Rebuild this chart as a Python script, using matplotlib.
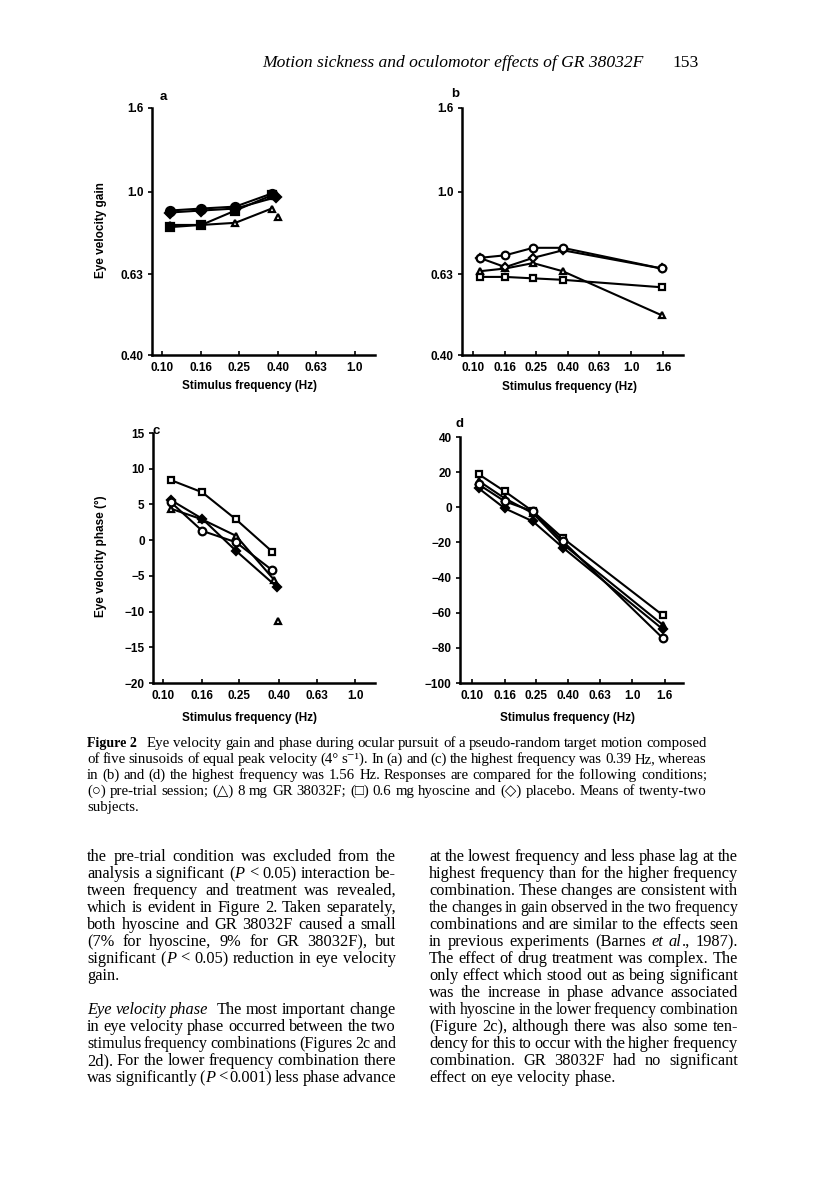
import numpy as np
import matplotlib.pyplot as plt

plt.rcParams['font.family'] = 'Liberation Sans'

SERIF = ['Liberation Serif', 'DejaVu Serif', 'DejaVu Sans']
SANS = ['Liberation Sans', 'DejaVu Sans']

# ---- data ----
# stimulus frequencies (Hz); small offsets at the top frequency as printed
f_low = [0.11, 0.16, 0.24, 0.37]
f_low_off = [0.11, 0.16, 0.24, 0.39]
f_high = [0.11, 0.16, 0.24, 0.37, 1.56]

# (a) gain, lower frequency combination
gain_a_pre = [0.90, 0.91, 0.92, 0.99]
gain_a_gr = [0.83, 0.83, 0.84, 0.91]
gain_a_hyo = [0.82, 0.83, 0.90, 0.98]
gain_a_plc = [0.89, 0.90, 0.91, 0.97]
gain_a_gr_extra = (0.40, 0.87)

# (b) gain, higher frequency combination
gain_b_pre = [0.69, 0.70, 0.73, 0.73, 0.65]
gain_b_gr = [0.64, 0.65, 0.67, 0.64, 0.50]
gain_b_hyo = [0.62, 0.62, 0.615, 0.61, 0.585]
gain_b_plc = [0.69, 0.655, 0.69, 0.72, 0.65]

# (c) phase (deg), lower frequency combination
phase_c_pre = [5.3, 1.3, -0.3, -4.2]
phase_c_gr = [4.4, 2.9, 0.6, -5.6]
phase_c_hyo = [8.4, 6.7, 2.9, -1.6]
phase_c_plc = [5.6, 3.0, -1.5, -6.5]
phase_c_gr_extra = (0.395, -11.3)

# (d) phase (deg), higher frequency combination
phase_d_pre = [13.0, 3.4, -2.3, -19.4, -74.6]
phase_d_gr = [15.0, 5.1, -3.4, -21.0, -67.0]
phase_d_hyo = [18.8, 9.1, -2.3, -17.6, -61.5]
phase_d_plc = [10.8, -0.6, -8.0, -23.0, -69.5]

x_ticks_low = [0.10, 0.16, 0.25, 0.40, 0.63, 1.0]
x_labels_low = ['0.10', '0.16', '0.25', '0.40', '0.63', '1.0']
x_ticks_high = [0.10, 0.16, 0.25, 0.40, 0.63, 1.0, 1.6]
x_labels_high = ['0.10', '0.16', '0.25', '0.40', '0.63', '1.0', '1.6']
gain_ticks = [0.40, 0.63, 1.0, 1.6]
gain_labels = ['0.40', '0.63', '1.0', '1.6']
phase_c_ticks = [-20, -15, -10, -5, 0, 5, 10, 15]
phase_c_labels = ['\u221220', '\u221215', '\u221210', '\u22125', '0', '5', '10', '15']
phase_d_ticks = [-100, -80, -60, -40, -20, 0, 20, 40]
phase_d_labels = ['\u2212100', '\u221280', '\u221260', '\u221240', '\u221220', '0', '20', '40']

W, H = 816, 1179
fig = plt.figure(figsize=(W / 100, H / 100), dpi=100)
fig.patch.set_facecolor('white')


def rect(x0, x1, ytop, ybot):
    return [x0 / W, 1 - ybot / H, (x1 - x0) / W, (ybot - ytop) / H]


def setup(ax, xlim, ylim, xt, xl, yt, yl, logy):
    ax.set_xscale('log')
    if logy:
        ax.set_yscale('log')
    ax.set_xlim(*xlim)
    ax.set_ylim(*ylim)
    ax.set_xticks(xt, xl, fontweight='bold', family=SANS)
    ax.set_yticks(yt, yl, fontweight='bold', family=SANS)
    ax.set_xticks([], minor=True)
    ax.set_yticks([], minor=True)
    for s in ['top', 'right']:
        ax.spines[s].set_visible(False)
    for s in ['left', 'bottom']:
        ax.spines[s].set_linewidth(1.8)
    ax.tick_params(axis='x', direction='in', length=3, width=1.2, labelsize=8.5, pad=5)
    ax.tick_params(axis='y', direction='out', length=3, width=1.2, labelsize=8.5, pad=3)
    ax.patch.set_alpha(0)


def series(ax, x, y, marker, face='white', ms=5.5):
    ax.plot(x, y, color='black', lw=1.5, marker=marker, ms=ms,
            mfc=face, mec='black', mew=1.6, zorder=3)


# panel a
ax_a = fig.add_axes(rect(152, 375, 108, 355))
setup(ax_a, (0.0887, 1.27), (0.40, 1.6), x_ticks_low, x_labels_low,
      gain_ticks, gain_labels, True)
series(ax_a, f_low, gain_a_gr, '^', ms=5)
series(ax_a, f_low, gain_a_hyo, 's', 'black', ms=5.5)
series(ax_a, f_low_off, gain_a_plc, 'D', 'black', ms=5)
series(ax_a, f_low, gain_a_pre, 'o', 'black', ms=6.5)
ax_a.plot(*gain_a_gr_extra, marker='^', ms=5, mfc='white', mec='black', mew=1.6)

# panel b
ax_b = fig.add_axes(rect(462, 683, 108, 355))
setup(ax_b, (0.0852, 2.13), (0.40, 1.6), x_ticks_high, x_labels_high,
      gain_ticks, gain_labels, True)
series(ax_b, f_high, gain_b_gr, '^', ms=5)
series(ax_b, f_high, gain_b_hyo, 's', ms=5)
series(ax_b, f_high, gain_b_plc, 'D', ms=4.5)
series(ax_b, f_high, gain_b_pre, 'o', ms=5.5)

# panel c
ax_c = fig.add_axes(rect(153, 375, 433, 683))
setup(ax_c, (0.0887, 1.27), (-20, 15), x_ticks_low, x_labels_low,
      phase_c_ticks, phase_c_labels, False)
series(ax_c, f_low, phase_c_hyo, 's', ms=5)
series(ax_c, [0.11, 0.16, 0.24, 0.38], phase_c_gr, '^', ms=5)
series(ax_c, f_low_off, phase_c_plc, 'D', 'black', ms=4.5)
series(ax_c, f_low, phase_c_pre, 'o', ms=5.5)
ax_c.plot(*phase_c_gr_extra, marker='^', ms=5, mfc='white', mec='black', mew=1.6)

# panel d
ax_d = fig.add_axes(rect(460, 683, 437, 683))
setup(ax_d, (0.0841, 2.08), (-100, 40), x_ticks_high, x_labels_high,
      phase_d_ticks, phase_d_labels, False)
series(ax_d, f_high, phase_d_hyo, 's', ms=5)
series(ax_d, f_high, phase_d_gr, '^', ms=5)
series(ax_d, f_high, phase_d_plc, 'D', 'black', ms=4.5)
series(ax_d, f_high, phase_d_pre, 'o', ms=5.5)

# ---- page layer in pixel coordinates ----
page = fig.add_axes([0, 0, 1, 1], zorder=-1)
page.set_xlim(0, W)
page.set_ylim(H, 0)
page.axis('off')
rend = fig.canvas.get_renderer()

# panel letters and axis titles
for txt, x, y in [('a', 163, 97), ('b', 455, 94), ('c', 156, 431), ('d', 459, 424)]:
    page.text(x, y, txt, fontsize=9.5, fontweight='bold', family=SANS, ha='center', va='center')
for x, y in [(249, 386), (570, 387), (249, 718), (567, 718)]:
    page.text(x, y, 'Stimulus frequency (Hz)', fontsize=8.5, fontweight='bold',
              family=SANS, ha='center', va='center')
page.text(101, 230, 'Eye velocity gain', fontsize=8.5, fontweight='bold', family=SANS,
          rotation=90, ha='center', va='center')
page.text(101, 556, 'Eye velocity phase (\u00b0)', fontsize=8.5, fontweight='bold',
          family=SANS, rotation=90, ha='center', va='center')


def txt_w(s, italic, size, weight='normal'):
    t = page.text(0, 0, s, fontsize=size, family=SERIF,
                  style='italic' if italic else 'normal', weight=weight)
    w = t.get_window_extent(renderer=rend).width
    t.remove()
    return w


def parse(line):
    words, state = [], False
    for tok in line.split(' '):
        segs, buf = [], ''
        for ch in tok:
            if ch == '*':
                if buf:
                    segs.append((buf, state))
                    buf = ''
                state = not state
            else:
                buf += ch
        if buf:
            segs.append((buf, state))
        words.append(segs)
    return words


def natural(line, size):
    words = parse(line)
    space = txt_w('x x', False, size) - txt_w('xx', False, size)
    return sum(sum(txt_w(s, it, size) for s, it in w) for w in words) + space * (len(words) - 1)


def fit_size(lines, widths, base=10.0):
    # typical size at which a full (justified) line fills its column
    sizes = []
    for line, wd in zip(lines, widths):
        n = natural(line, base) if line else 0
        if n > 0.75 * wd:
            sizes.append(base * wd / n)
    return float(np.median(sizes))


def put_line(x0, x1, y, line, size, justify=None):
    width = x1 - x0
    words = parse(line)
    # squeeze the word gaps first, shrink the type only if that is not enough
    space = txt_w('x x', False, size) - txt_w('xx', False, size)
    ink = sum(sum(txt_w(s, it, size) for s, it in w) for w in words)
    tight = ink + 0.6 * space * (len(words) - 1)
    if tight > width:
        size = size * width / tight
    widths = [sum(txt_w(s, it, size) for s, it in w) for w in words]
    space = txt_w('x x', False, size) - txt_w('xx', False, size)
    nat = sum(widths) + space * (len(words) - 1)
    if justify is None:
        justify = nat > 0.75 * width
    gap = space
    if justify and len(words) > 1:
        gap = (width - sum(widths)) / (len(words) - 1)
    x = x0
    for w, wd in zip(words, widths):
        xx = x
        for s, it in w:
            page.text(xx, y, s, fontsize=size, family=SERIF,
                      style='italic' if it else 'normal', va='baseline', ha='left')
            xx += txt_w(s, it, size)
        x += wd + gap


# header
header = 'Motion sickness and oculomotor effects of GR 38032F'
page.text(262, 67, header, fontsize=12.6, family=SERIF, style='italic', va='baseline')
page.text(672, 67, '153', fontsize=12.6, family=SERIF, va='baseline')

# caption
caption = [
    'Eye velocity gain and phase during ocular pursuit of a pseudo-random target motion composed',
    'of five sinusoids of equal peak velocity (4\u00b0 s\u207b\u00b9). In (a) and (c) the highest frequency was 0.39 Hz, whereas',
    'in (b) and (d) the highest frequency was 1.56 Hz. Responses are compared for the following conditions;',
    '(\u25cb) pre-trial session; (\u25b3) 8 mg GR 38032F; (\u25a1) 0.6 mg hyoscine and (\u25c7) placebo. Means of twenty-two',
    'subjects.',
]
cap_x1 = 707
cap_label_w = txt_w('Figure 2', False, 10.0, weight='bold')
cap_x0_first = 87 + cap_label_w + 10
cap_widths = [cap_x1 - cap_x0_first] + [cap_x1 - 87] * 4
cap_size = min(fit_size(caption, cap_widths), 11.0)
page.text(87, 747, 'Figure 2', fontsize=10.0, family=SERIF, weight='bold', va='baseline')
for i, line in enumerate(caption):
    x0 = cap_x0_first if i == 0 else 87
    put_line(x0, cap_x1, 747 + 16 * i, line, cap_size)

# body text, two columns
left_col = [
    'the pre-trial condition was excluded from the',
    'analysis a significant (*P* < 0.05) interaction be-',
    'tween frequency and treatment was revealed,',
    'which is evident in Figure 2. Taken separately,',
    'both hyoscine and GR 38032F caused a small',
    '(7% for hyoscine, 9% for GR 38032F), but',
    'significant (*P* < 0.05) reduction in eye velocity',
    'gain.',
    '',
    '*Eye velocity phase*  The most important change',
    'in eye velocity phase occurred between the two',
    'stimulus frequency combinations (Figures 2c and',
    '2d). For the lower frequency combination there',
    'was significantly (*P* < 0.001) less phase advance',
]
right_col = [
    'at the lowest frequency and less phase lag at the',
    'highest frequency than for the higher frequency',
    'combination. These changes are consistent with',
    'the changes in gain observed in the two frequency',
    'combinations and are similar to the effects seen',
    'in previous experiments (Barnes *et al*., 1987).',
    'The effect of drug treatment was complex. The',
    'only effect which stood out as being significant',
    'was the increase in phase advance associated',
    'with hyoscine in the lower frequency combination',
    '(Figure 2c), although there was also some ten-',
    'dency for this to occur with the higher frequency',
    'combination. GR 38032F had no significant',
    'effect on eye velocity phase.',
]
col_w = 309
body_size = min(fit_size(left_col + right_col, [col_w] * 28), 12.5)
for i, line in enumerate(left_col):
    if line:
        put_line(87, 87 + col_w, 861 + 17 * i, line, body_size)
for i, line in enumerate(right_col):
    put_line(429, 429 + col_w, 861 + 17 * i, line, body_size)

fig.savefig('out.png', dpi=100, facecolor='white')
